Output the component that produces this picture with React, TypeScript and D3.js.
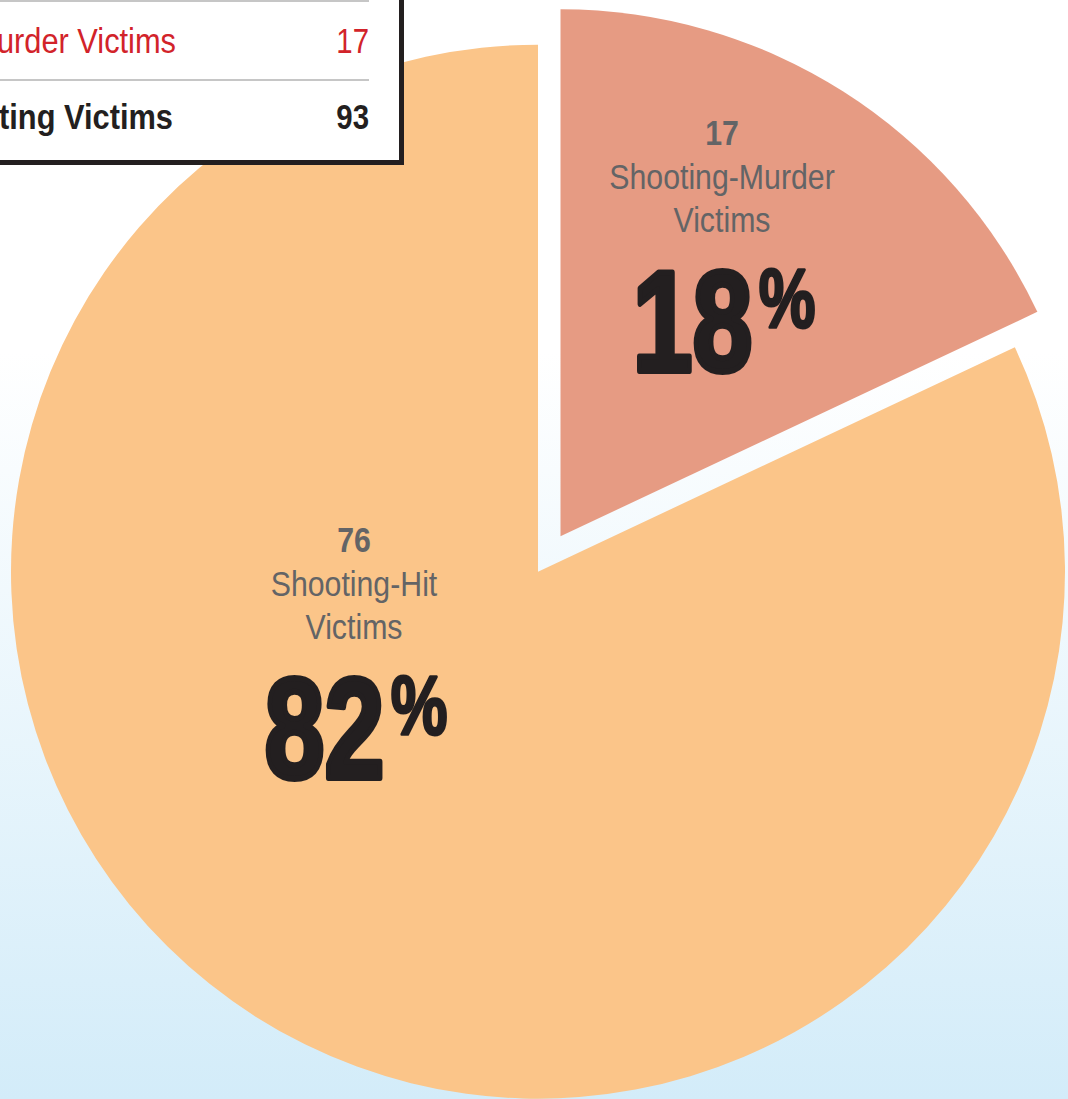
import React from 'react';
import * as d3 from 'd3';

// ---- data ----
const categories = ['Shooting-Murder Victims', 'Shooting-Hit Victims'];
const counts = [17, 76];
const percents = [18, 82];
const labelLines = [['Shooting-Murder', 'Victims'], ['Shooting-Hit', 'Victims']];
const tableLabels = ['Shooting-Murder Victims', 'Shooting Victims'];
const tableValues = [17, 93];

// ---- layout ----
const W = 1068;
const H = 1099;
const CX = 538;
const CY = 571.7;
const R = 527;
const sliceColors = ['#e69b83', '#fbc589'];
const explode = [42, 0];
const labelAnchors = [
  { x: 722, y: 145 },
  { x: 354, y: 552 },
];
const GREY = '#636466';
const DARK = '#231f20';
const RED = '#d2232a';
const FONT = '"Liberation Sans", Arial, Helvetica, sans-serif';

export default function App() {
  const pie = d3.pie<number>().sort(null).value((d) => d);
  const arcs = pie(percents);
  const arcGen = d3.arc<d3.PieArcDatum<number>>().innerRadius(0).outerRadius(R);

  return (
    <svg
      width={W}
      height={H}
      viewBox={`0 0 ${W} ${H}`}
      style={{ position: 'absolute', left: 0, top: 0, display: 'block' }}
    >
      <defs>
        <linearGradient id="bg" x1="0" y1="0" x2="0" y2="1">
          <stop offset="0" stopColor="#ffffff" />
          <stop offset="0.32" stopColor="#ffffff" />
          <stop offset="1" stopColor="#d3ecf9" />
        </linearGradient>
      </defs>
      <rect x={0} y={0} width={W} height={H} fill="url(#bg)" />

      {/* pie slices */}
      <g transform={`translate(${CX},${CY})`}>
        {arcs.map((a, i) => {
          const mid = (a.startAngle + a.endAngle) / 2;
          const dx = Math.sin(mid) * explode[i];
          const dy = -Math.cos(mid) * explode[i];
          return (
            <path
              key={categories[i]}
              d={arcGen(a) || ''}
              fill={sliceColors[i]}
              transform={`translate(${dx},${dy})`}
            />
          );
        })}
      </g>

      {/* slice labels */}
      {arcs.map((a, i) => {
        const p = labelAnchors[i];
        return (
          <g key={'lab' + i} fontFamily={FONT}>
            <g transform={`translate(${p.x},${p.y}) scale(0.84,1)`}>
              <text textAnchor="middle" fontSize={36} fontWeight="bold" fill={GREY}>
                {counts[i]}
              </text>
            </g>
            {labelLines[i].map((ln, j) => (
              <g key={j} transform={`translate(${p.x},${p.y + 44 + j * 43}) scale(0.865,1)`}>
                <text textAnchor="middle" fontSize={35} fill={GREY}>
                  {ln}
                </text>
              </g>
            ))}
            <g transform={`translate(${p.x + 2},${p.y + 226}) scale(0.76,1)`}>
              <text
                textAnchor="middle"
                fontSize={142}
                fontWeight="bold"
                fill={DARK}
                stroke={DARK}
                strokeWidth={6}
                strokeLinejoin="round"
              >
                <tspan>{Math.round(a.data)}</tspan>
                <tspan dx={8} dy={-44} fontSize={84} strokeWidth={3}>
                  %
                </tspan>
              </text>
            </g>
          </g>
        );
      })}

      {/* table box (cropped at top-left) */}
      <g fontFamily={FONT}>
        <rect x={-10} y={-10} width={411.5} height={172.5} fill="#ffffff" stroke={DARK} strokeWidth={5} />
        <line x1={0} x2={369} y1={1} y2={1} stroke="#c6c6c6" strokeWidth={2} />
        <line x1={0} x2={369} y1={80} y2={80} stroke="#c6c6c6" strokeWidth={2} />
        {tableLabels.map((lab, i) => {
          const y = i === 0 ? 53.3 : 129.3;
          const bold = i === 1;
          const fill = i === 0 ? RED : DARK;
          return (
            <g key={lab}>
              <g transform={`translate(${i === 0 ? 176 : 173},${y}) scale(0.88,1)`}>
                <text textAnchor="end" fontSize={35} fontWeight={bold ? 'bold' : 'normal'} fill={fill}>
                  {lab}
                </text>
              </g>
              <g transform={`translate(369,${y}) scale(0.84,1)`}>
                <text textAnchor="end" fontSize={35} fontWeight={bold ? 'bold' : 'normal'} fill={fill}>
                  {tableValues[i]}
                </text>
              </g>
            </g>
          );
        })}
      </g>
    </svg>
  );
}
